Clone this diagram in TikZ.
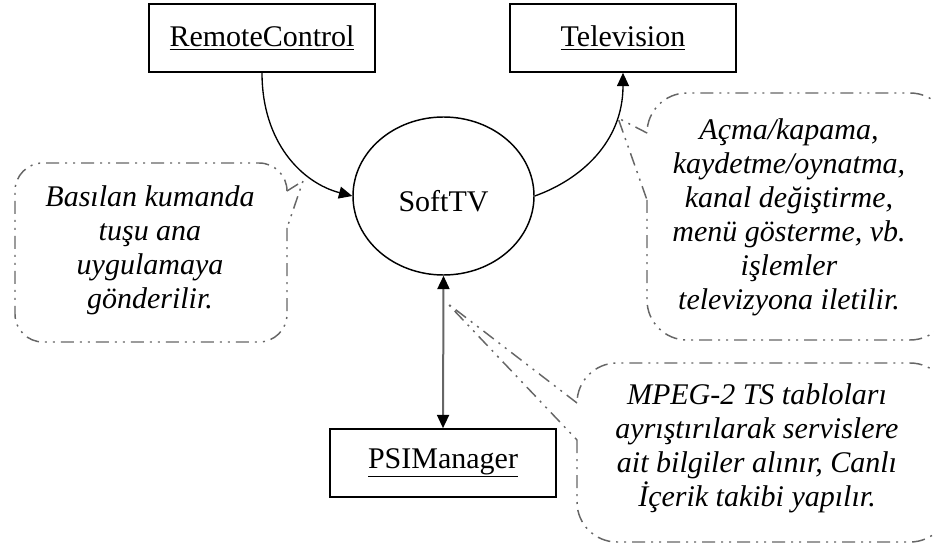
\documentclass[tikz,border=0pt]{standalone}
\usepackage{fontspec}
\setmainfont{Liberation Serif}
\usetikzlibrary{arrows.meta,shapes.geometric}

\begin{document}
\begin{tikzpicture}[x=0.75pt,y=-0.75pt,
  every node/.style={font=\fontsize{22.5pt}{25.5pt}\selectfont},
  classbox/.style={draw=black,line width=1.2pt,minimum width=169.5pt,
    minimum height=51pt,inner sep=0pt},
  usecase/.style={ellipse,draw=black,line width=1.1pt,minimum width=135.75pt,
    minimum height=118.5pt,inner sep=0pt},
  link/.style={draw=black,line width=1pt,-{Triangle[length=10pt,width=9pt]}},
  note/.style={draw=black!60,line width=1.1pt,
    dash pattern=on 9.75pt off 4.5pt on 1.5pt off 4.5pt on 1.5pt off 4.5pt},
  notetext/.style={align=center,
    font=\itshape\fontsize{22.5pt}{25.5pt}\selectfont}
]
\useasboundingbox (0,0) rectangle (934,545);
\clip (0,0) rectangle (934,545);

% classes
\node[classbox] (rc)  at (262,38)  {\underline{RemoteControl}};
\node[classbox] (tv)  at (623,38)  {\underline{Television}};
\node[classbox] (psi) at (443,463) {\underline{PSIManager}};
\node[usecase]  (sw)  at (443.5,196) {};
\node (swlabel) at (443.5,201) {SoftTV};

% connectors
\draw[link] (rc.south) .. controls +(0,70) and +(-50,-13) .. (sw.west);
\draw[link] (sw.east) .. controls +(45,-16) and +(0,70) .. (tv.south);
\draw[draw=black!60,line width=1.5pt,{Triangle[length=10pt,width=9pt,color=black]}-{Triangle[length=10pt,width=9pt,color=black]}]
  (sw.south) -- (psi.north);

% note on the remote control
\coordinate (n1a) at (287,191);
\coordinate (n1b) at (287,228);
\coordinate (n1tip) at (303,181);
\draw[note,rounded corners=21pt] (n1b) -- (287,342) -- (15,342) -- (15,163) -- (287,163) -- (n1a);
\draw[note] (n1a) -- (n1tip) -- (n1b);
\node[notetext] (n1) at (150,250) {Basılan kumanda\\tuşu ana\\uygulamaya\\gönderilir.};

% note on the television
\coordinate (n2a) at (647,133);
\coordinate (n2b) at (647,200);
\coordinate (n2tip) at (618,118);
\draw[note,rounded corners=30pt] (n2b) -- (647,340) -- (950,340) -- (950,93) -- (647,93) -- (n2a);
\draw[note] (n2a) -- (n2tip) -- (n2b);
\node[notetext] (n2) at (789,217) {Açma/kapama,\\kaydetme/oynatma,\\kanal değiştirme,\\menü gösterme, vb.\\işlemler\\televizyona iletilir.};

% note on the PSI manager link
\coordinate (n3a) at (577,403);
\coordinate (n3b) at (577,440);
\coordinate (n3tip) at (447,303);
\draw[note,rounded corners=30pt] (n3b) -- (577,542) -- (950,542) -- (950,363) -- (577,363) -- (n3a);
\draw[note] (n3a) -- (n3tip) -- (n3b);
\node[notetext] (n3) at (757,448) {MPEG-2 TS tabloları\\ayrıştırılarak servislere\\ait bilgiler alınır, Canlı\\İçerik takibi yapılır.};
\end{tikzpicture}
\end{document}
